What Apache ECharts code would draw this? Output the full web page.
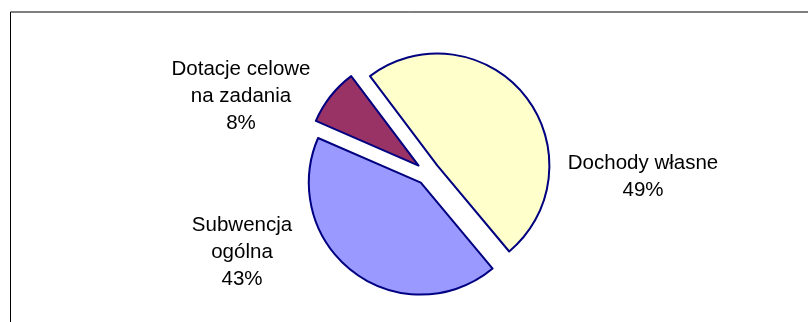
<!DOCTYPE html>
<html>
<head>
<meta charset="utf-8">
<script src="https://cdn.jsdelivr.net/npm/echarts@6/dist/echarts.min.js"></script>
<style>
html,body{margin:0;padding:0;background:#fff;}
#chart{width:808px;height:322px;}
</style>
</head>
<body>
<div id="chart"></div>
<script>
// Data
var categories = ['Dochody własne', 'Subwencja\nogólna', 'Dotacje celowe\nna zadania'];
var values = [49.2, 42.6, 8.2];
var colors = ['#FFFFCC', '#9999FF', '#993366'];
// label anchor (centre of text block), px
var labelPos = [[643, 176.5], [242, 252], [241, 96]];

// percentages (largest remainder, like ECharts)
var total = values.reduce(function (a, b) { return a + b; }, 0);
var raw = values.map(function (v) { return v / total * 100; });
var pct = raw.map(Math.floor);
var left = 100 - pct.reduce(function (a, b) { return a + b; }, 0);
raw.map(function (r, i) { return {i: i, rem: r - Math.floor(r)}; })
   .sort(function (a, b) { return b.rem - a.rem; })
   .slice(0, left).forEach(function (o) { pct[o.i] += 1; });

var chart = echarts.init(document.getElementById('chart'), null, {renderer: 'canvas'});
var data = categories.map(function (c, i) {
  return {
    name: c,
    value: values[i],
    selected: true,
    itemStyle: {color: colors[i]},
    select: {itemStyle: {color: colors[i], borderColor: '#000080', borderWidth: 2}}
  };
});
var graphics = [{
  type: 'polyline',
  shape: {points: [[10.5, 400], [10.5, 12], [900, 12]]},
  style: {stroke: '#000', lineWidth: 1, fill: null},
  silent: true
}];
categories.forEach(function (c, i) {
  graphics.push({
    type: 'text',
    x: labelPos[i][0],
    y: labelPos[i][1],
    silent: true,
    style: {
      text: c + '\n' + pct[i] + '%',
      fill: '#000',
      font: '20.5px "Liberation Sans", Arial, sans-serif',
      lineHeight: 27,
      align: 'center',
      verticalAlign: 'middle'
    }
  });
});
chart.setOption({
  animation: false,
  backgroundColor: '#ffffff',
  graphic: graphics,
  series: [{
    type: 'pie',
    center: [428, 173],
    radius: 112,
    startAngle: 127,
    clockwise: true,
    selectedMode: 'multiple',
    selectedOffset: 12,
    avoidLabelOverlap: false,
    itemStyle: {borderColor: '#000080', borderWidth: 2},
    emphasis: {disabled: true, scale: false},
    label: {show: false},
    labelLine: {show: false},
    data: data
  }]
});
</script>
</body>
</html>
